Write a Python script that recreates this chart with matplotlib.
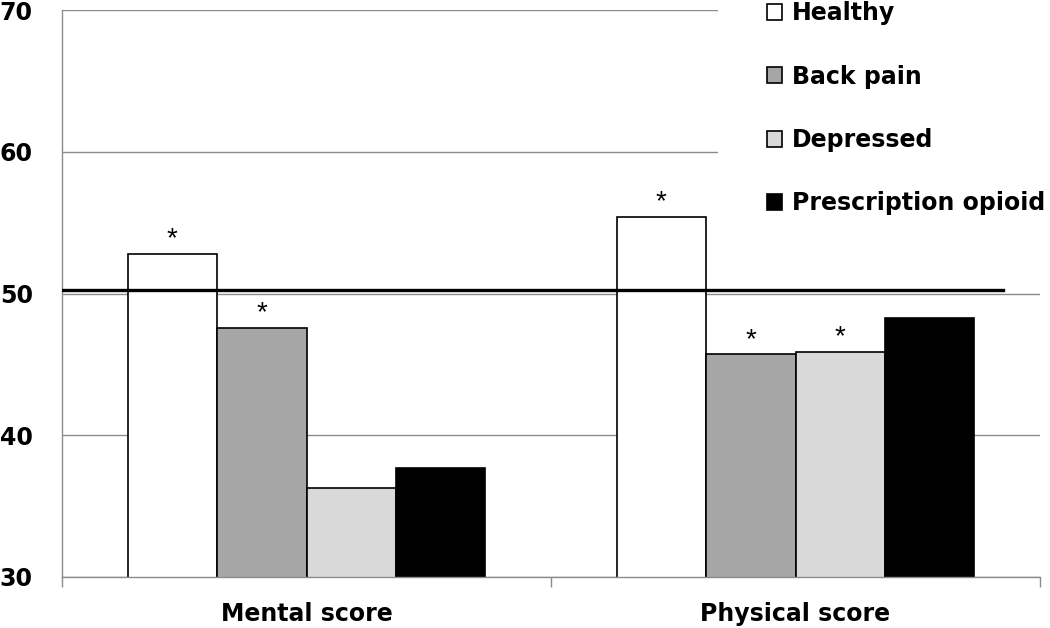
import matplotlib
matplotlib.use("Agg")
import matplotlib.pyplot as plt
from matplotlib.patches import Rectangle
import numpy as np

plt.rcParams['font.family'] = ['DejaVu Sans']

categories = ["Mental score", "Physical score"]
series = ["Healthy", "Back pain", "Depressed", "Prescription opioid"]
values = {
    "Healthy": [52.8, 55.4],
    "Back pain": [47.6, 45.7],
    "Depressed": [36.3, 45.9],
    "Prescription opioid": [37.7, 48.3],
}
stars = {
    "Healthy": [True, True],
    "Back pain": [True, True],
    "Depressed": [False, True],
    "Prescription opioid": [False, False],
}
reference_line = 50.25
colors = {"Healthy": "#ffffff", "Back pain": "#a6a6a6",
          "Depressed": "#d9d9d9", "Prescription opioid": "#000000"}

W, H = 1050, 628
fig = plt.figure(figsize=(W / 100, H / 100), dpi=100)
ax = fig.add_axes([62 / W, 1 - 577 / H, (1040 - 62) / W, (577 - 10) / H])

x = np.arange(len(categories))
bw = 0.183
handles = []
for i, s in enumerate(series):
    pos = x + (i - 1.5) * bw
    b = ax.bar(pos, values[s], bottom=0, width=bw, color=colors[s],
               edgecolor="black", linewidth=1.2, zorder=2, label=s)
    handles.append(b)
    for p, v, st in zip(pos, values[s], stars[s]):
        if st:
            ax.text(p, v + 0.1, "*", ha="center", va="bottom", fontsize=20,
                    family="Liberation Sans", zorder=5)

ax.set_ylim(30, 70)
ax.set_xlim(-0.5, 1.5)
ax.set_yticks([30, 40, 50, 60, 70])
ax.yaxis.grid(True, color="#8c8c8c", linewidth=1.0, zorder=0)
ax.set_axisbelow(True)
ax.axhline(reference_line, xmin=0, xmax=(1003 - 62) / 978, color="black",
           linewidth=2.4, zorder=4)

for sp in ["top", "right"]:
    ax.spines[sp].set_visible(False)
for sp in ["left", "bottom"]:
    ax.spines[sp].set_color("#8c8c8c")
    ax.spines[sp].set_linewidth(1.0)

ax.set_xticks(x)
ax.set_xticklabels(categories, fontsize=17, fontweight="bold")
ax.set_xticks([-0.5, 0.5, 1.5], minor=True)
ax.tick_params(axis="x", which="major", length=0, pad=18)
ax.tick_params(axis="x", which="minor", length=7, color="#8c8c8c", width=1.0)
ax.tick_params(axis="y", length=0, pad=21, labelsize=17)
for t in ax.get_yticklabels():
    t.set_fontweight("bold")

# white area behind the legend (hides gridlines there)
fig.patches.append(Rectangle((718 / W, 1 - 230 / H), 1 - 718 / W, 230 / H,
                             transform=fig.transFigure, facecolor="white",
                             edgecolor="none", zorder=8))

leg = fig.legend(handles=handles, labels=series, loc="upper left",
                 bbox_to_anchor=(760 / W, 1 + 6 / H), frameon=False,
                 prop={"weight": "bold", "size": 17},
                 handlelength=0.65, handleheight=0.65, handletextpad=0.4,
                 labelspacing=1.67, borderpad=0.3, borderaxespad=0)
leg.set_zorder(10)

fig.savefig("out.png", dpi=100, facecolor="white")
